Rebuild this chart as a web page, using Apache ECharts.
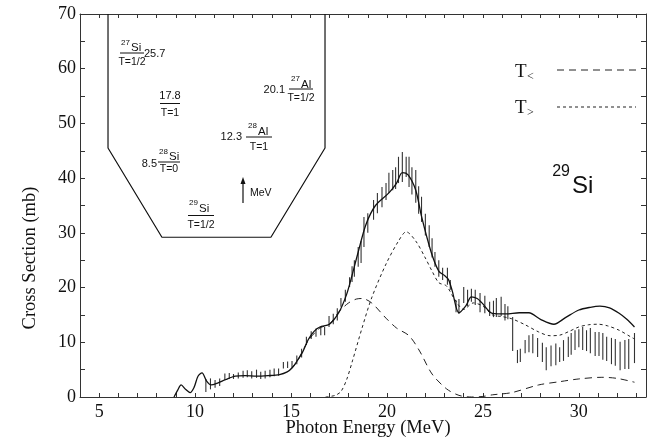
<!DOCTYPE html>
<html><head><meta charset="utf-8">
<script src="https://cdn.jsdelivr.net/npm/echarts@6/dist/echarts.min.js"></script>
<style>html,body{margin:0;padding:0;background:#fff}#c{width:656px;height:442px}</style>
</head><body><div id="c"></div>
<script>
// ---- data ----
const totalE = [8.9,9.1,9.27,9.5,9.74,9.95,10.15,10.36,10.6,10.83,11.2,11.6,12.1,12.6,13.2,13.8,14.4,14.8,15.05,15.3,15.6,15.9,16.2,16.5,17.0,17.5,17.9,18.2,18.5,18.9,19.4,20.1,20.5,20.8,21.1,21.5,21.8,22.3,22.7,23.0,23.2,23.4,23.75,24.1,24.4,24.7,24.95,25.5,26.2,26.9,27.4,28.0,28.7,29.3,30.0,30.6,31.1,31.6,32.1,32.5,32.9];
const totalS = [0,1.3,2.2,1.4,0.8,1.8,3.8,4.4,2.9,2.2,2.6,3.2,3.8,3.9,3.8,3.9,4.1,4.6,5.3,6.5,8.2,10.5,12.0,12.8,13.3,15.5,18.8,22.5,26.5,31.5,35.0,37.3,39.1,41.0,40.6,37.8,33.0,26.5,23.0,22.2,21.5,19.4,15.4,16.6,18.3,18.0,17.2,15.3,15.2,15.4,15.4,14.2,13.3,14.5,15.9,16.4,16.6,16.3,15.3,14.2,12.8];
const tLowE = [15.0,15.3,15.9,16.5,17.0,17.5,18.0,18.4,18.7,19.2,19.95,20.5,21.15,21.7,22.35,23.1,23.75,24.4,25.0,25.5,26.5,27.9,29.0,30.0,31.2,32.0,32.9];
const tLowS = [5.2,6.4,10.3,12.6,13.3,15.6,17.2,17.9,18.0,17.2,14.4,12.6,11.2,8.4,4.2,1.5,0.3,0,0.1,0.4,0.8,2.2,2.8,3.3,3.6,3.4,2.7];
const tHighE = [16.8,17.3,17.6,17.9,18.2,18.7,19.2,19.95,20.6,21.0,21.5,22.0,22.35,22.7,23.1,23.5,24.0,24.5,25.0,25.5,26.0,26.5,27.2,27.9,28.5,29.0,29.5,30.0,30.5,31.0,31.5,32.1,32.7,32.9];
const tHighS = [0,0.3,1.0,3.2,6.6,12.6,18.1,24.3,28.5,30.2,28.5,25.4,23.0,20.9,20.3,18.0,16.0,17.2,16.6,15.0,14.7,14.3,13.2,11.9,11.2,11.3,12.0,12.8,13.2,13.3,13.0,12.2,11.0,10.6];
const barE  = [10.56,10.8,11.04,11.28,11.55,11.78,12.0,12.25,12.5,12.72,12.95,13.2,13.42,13.65,13.9,14.12,14.35,14.6,14.82,15.05,15.3,15.55,15.8,16.05,16.3,16.55,16.75,16.98,17.2,17.41,17.6,17.83,18.05,18.18,18.3,18.5,18.65,18.8,19.0,19.3,19.5,19.74,19.95,20.1,20.3,20.45,20.6,20.8,21.0,21.15,21.3,21.5,21.65,21.8,22.0,22.2,22.35,22.5,22.7,22.9,23.15,23.3,23.6,23.75,24.0,24.2,24.4,24.6,24.85,25.1,25.35,25.55,25.7,25.95,26.15,26.3,26.55,26.8,26.95,27.2,27.4,27.6,27.85,28.1,28.3,28.55,28.8,29.0,29.2,29.45,29.6,29.8,30.0,30.2,30.4,30.6,30.85,31.05,31.25,31.45,31.7,31.9,32.15,32.4,32.6,32.9];
const barLo = [0.9,1.4,1.7,2.0,3.0,3.3,3.3,3.4,3.5,3.6,3.4,3.5,3.3,3.4,3.6,3.8,3.9,5.2,5.3,5.4,6.0,7.2,9.5,10.6,11.0,11.3,11.3,12.8,13.3,14.0,16.5,17.4,20.1,21.0,22.0,23.8,24.5,27.4,30.0,32.4,33.6,34.7,36.0,37.3,37.8,38.0,39.1,39.3,40.2,38.4,37.0,35.5,33.5,32.0,29.5,27.4,25.5,23.8,22.0,21.4,20.5,19.6,15.5,15.2,17.2,16.6,17.4,16.8,15.5,15.3,14.8,14.6,14.6,14.8,14.0,14.2,8.4,6.2,6.4,8.0,8.2,8.0,7.3,6.4,4.9,5.6,5.8,6.4,6.6,7.3,7.7,8.6,9.1,8.6,8.4,8.0,7.5,7.5,6.8,6.6,6.0,5.7,4.9,5.1,5.1,6.2];
const barHi = [3.3,3.4,3.1,3.4,4.3,4.4,4.2,4.5,4.8,4.9,4.7,5.0,4.6,4.8,5.0,5.2,5.2,6.4,6.5,6.6,7.6,8.8,11.0,12.0,12.5,12.8,12.8,14.8,15.2,16.2,18.1,19.6,21.9,23.9,25.0,27.4,28.5,32.9,33.6,36.0,37.3,38.4,39.1,41.0,41.5,42.0,43.9,44.8,43.9,43.9,42.0,41.5,38.5,36.6,33.5,31.4,29.0,26.5,25.0,23.6,23.6,21.4,17.7,17.9,20.1,19.6,19.8,19.6,19.0,18.5,17.4,17.6,18.1,18.3,17.0,16.6,14.6,8.6,8.8,10.4,11.3,11.5,10.8,9.9,9.1,9.4,9.8,9.1,10.4,11.0,11.7,12.2,12.4,12.8,12.2,12.6,11.9,11.9,11.7,11.0,10.8,10.6,10.1,10.4,10.6,11.7];
const insetBoxE = [5.46,5.46,8.27,13.95,16.77,16.77];
const insetBoxS = [70,45.5,29.2,29.2,45.5,70];
const xTickLabels = [5,10,15,20,25,30];
const yTickLabels = [0,10,20,30,40,50,60,70];

const zip = (a,b) => a.map((v,i)=>[v,b[i]]);
const bars = barE.map((e,i)=>[e,barLo[i],barHi[i]]);

const chart = echarts.init(document.getElementById('c'), null, {renderer:'canvas'});
const serif = '"Liberation Serif","Times New Roman",serif';
const sans = '"Liberation Sans",Arial,sans-serif';
const axColor = '#333';

function txt(x,y,text,size,align,vAlign,font){
  return {type:'text', x:x, y:y, silent:true, style:{text:text, fontSize:size, fontFamily:font||sans, fill:'#111', align:align||'center', verticalAlign:vAlign||'middle'}};
}
function hline(x1,x2,y,w){
  return {type:'line', silent:true, shape:{x1:x1,y1:y,x2:x2,y2:y}, style:{stroke:'#111', lineWidth:w||1}};
}
const g = [];
g.push(txt(130,43,'27',8,'right'), txt(131,48,'Si',11.5,'left'), hline(120,144,53), txt(132,62,'T=1/2',10.5), txt(144,54,'25.7',11,'left'));
g.push(txt(170,96,'17.8',11), hline(160,180,103.5), txt(170,113,'T=1',10.5));
g.push(txt(157,164,'8.5',11,'right'), txt(168,152,'28',8,'right'), txt(169,157,'Si',11.5,'left'), hline(158,180,162), txt(169,169,'T=0',10.5));
g.push(txt(198,203,'29',8,'right'), txt(199,209,'Si',11.5,'left'), hline(188,214,215.5), txt(201,225,'T=1/2',10.5));
g.push(txt(242,137,'12.3',11,'right'), txt(257,126,'28',8,'right'), txt(258,132,'Al',11.5,'left'), hline(246,272,137), txt(259,147,'T=1',10.5));
g.push(txt(285,90,'20.1',11,'right'), txt(300,79,'27',8,'right'), txt(301,85,'Al',11.5,'left'), hline(289,313,89), txt(301,98,'T=1/2',10.5));
g.push({type:'line', silent:true, shape:{x1:243,y1:203,x2:243,y2:182}, style:{stroke:'#111', lineWidth:1.2}});
g.push({type:'polygon', silent:true, shape:{points:[[243,177],[240.5,184],[245.5,184]]}, style:{fill:'#111'}});
g.push(txt(250,193,'MeV',10.5,'left'));
g.push(txt(515,72,'T',19,'left','middle',serif), txt(527,77,'<',12,'left','middle',serif));
g.push({type:'line', silent:true, shape:{x1:557,y1:70,x2:636,y2:70}, style:{stroke:'#222', lineWidth:1, lineDash:[7,5]}});
g.push(txt(515,108,'T',19,'left','middle',serif), txt(527,113,'>',12,'left','middle',serif));
g.push({type:'line', silent:true, shape:{x1:557,y1:107,x2:636,y2:107}, style:{stroke:'#222', lineWidth:1, lineDash:[3,3]}});
g.push(txt(570,172,'29',16,'right'), txt(572,186,'Si',24,'left'));
g.push(txt(368,428,'Photon Energy (MeV)',18.5,'center','middle',serif));
g.push({type:'text', x:30, y:258, rotation:Math.PI/2, silent:true, style:{text:'Cross Section (mb)', fontSize:18.5, fontFamily:serif, fill:'#111', align:'center', verticalAlign:'middle'}});

const xBase = {type:'value', min:4, max:33.5, interval:1, splitLine:{show:false},
  axisLine:{show:true, onZero:false, lineStyle:{color:axColor, width:1}},
  axisTick:{show:true, inside:true, length:4, lineStyle:{color:axColor}}};
const yBase = {type:'value', min:0, max:70, interval:5, splitLine:{show:false},
  axisLine:{show:true, onZero:false, lineStyle:{color:axColor, width:1}},
  axisTick:{show:true, inside:true, length:5, lineStyle:{color:axColor}}};

chart.setOption({
  animation:false,
  backgroundColor:'#fff',
  grid:{left:80, right:10, top:14, bottom:45},
  xAxis:[
    Object.assign({}, xBase, {position:'bottom', axisLabel:{show:true, margin:6, fontSize:18, fontFamily:serif, color:'#111',
      formatter:v => xTickLabels.indexOf(v) >= 0 ? String(v) : ''}}),
    Object.assign({}, xBase, {position:'top', axisLabel:{show:false}})
  ],
  yAxis:[
    Object.assign({}, yBase, {position:'left', axisLabel:{show:true, margin:4, fontSize:18, fontFamily:serif, color:'#111',
      formatter:v => yTickLabels.indexOf(v) >= 0 ? String(v) : ''}}),
    Object.assign({}, yBase, {position:'right', axisLabel:{show:false}})
  ],
  graphic:g,
  series:[
    {type:'line', data:zip(insetBoxE, insetBoxS), showSymbol:false, lineStyle:{color:'#111', width:1.2}, silent:true},
    {type:'custom', data:bars, encode:{x:0, y:[1,2]}, silent:true,
      renderItem:(params, api) => {
        const p1 = api.coord([api.value(0), api.value(1)]);
        const p2 = api.coord([api.value(0), api.value(2)]);
        return {type:'line', shape:{x1:p1[0], y1:p1[1], x2:p2[0], y2:p2[1]}, style:{stroke:'#333', lineWidth:1.1}};
      }},
    {type:'line', data:zip(tLowE, tLowS), showSymbol:false, smooth:0.3, lineStyle:{color:'#222', width:1, type:[7,5]}, silent:true},
    {type:'line', data:zip(tHighE, tHighS), showSymbol:false, smooth:0.3, lineStyle:{color:'#222', width:1, type:[3,3]}, silent:true},
    {type:'line', data:zip(totalE, totalS), showSymbol:false, smooth:0.3, lineStyle:{color:'#111', width:1.3}, silent:true}
  ]
});
</script></body></html>
